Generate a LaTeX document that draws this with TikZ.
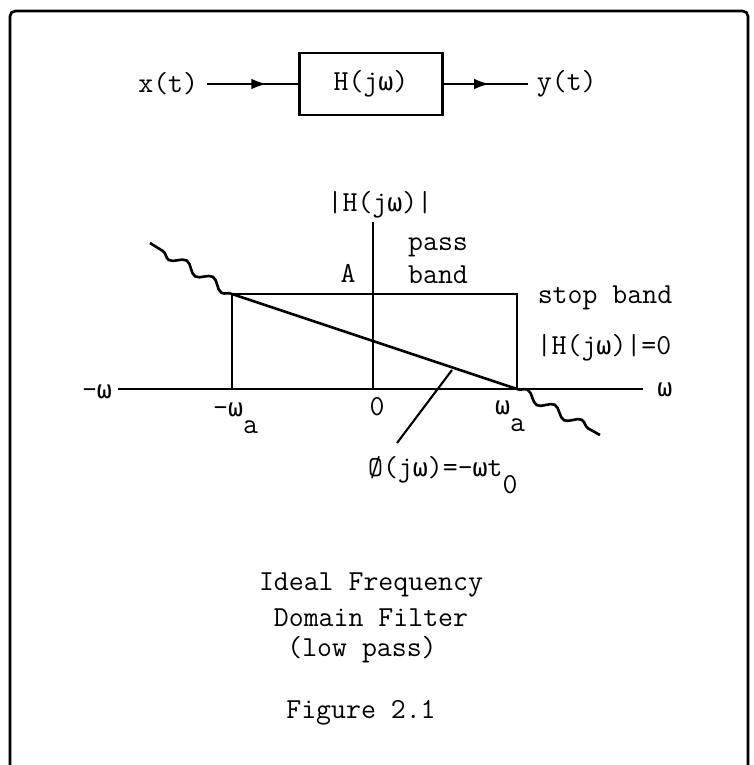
\documentclass[tikz,border=0pt]{standalone}
\usepackage{fontspec}
\newfontfamily\gkfont{DejaVu Sans Mono}[Scale=0.86]
\usetikzlibrary{arrows.meta,positioning,decorations.markings,decorations.pathmorphing}
\newcommand{\lowsub}[1]{\raisebox{-0.6em}{#1}}
\newcommand{\om}{{\gkfont ω}}
\tikzset{
  ink/.style={line width=1.5pt,black},
  tw/.style={font=\fontsize{16.5}{19}\selectfont\ttfamily\addfontfeatures{FakeBold=0.6}},
  blk/.style={draw,tw,line width=1.5pt,minimum width=2.86cm,minimum height=1.24cm,inner sep=0pt},
  lbl/.style={tw,inner sep=1pt},
  sig/.style={ink,postaction={decorate},
    decoration={markings,mark=at position #1 with {\arrow{Latex[length=9pt,width=6pt]}}}},
  wig/.style={ink,decorate,decoration={snake,segment length=0.62cm,amplitude=0.09cm}},
}
\begin{document}
\begin{tikzpicture}[x=0.02cm,y=-0.02cm]
\useasboundingbox (0,0) rectangle (754,765);
\draw[ink,rounded corners=3pt] (10,765) -- (10,11) -- (748,11) -- (748,765);

% block diagram
\node[blk] (H) at (371,84) {H(j\om)};
\node[lbl,inner sep=5pt,left=1.82cm of H] (xin) {x(t)};
\node[lbl,inner sep=5pt,right=1.68cm of H] (yout) {y(t)};
\draw[sig=0.66] (xin) -- (H);
\draw[sig=0.55] (H) -- (yout);

% magnitude and phase
\coordinate (nw) at (118,389);
\coordinate (ne) at (643,389);
\coordinate (o) at (373,389);
\coordinate (top) at (373,222);
\coordinate (la) at (232,389);
\coordinate (ra) at (517,389);
\coordinate (lt) at (232,294);
\coordinate (rt) at (517,294);
\coordinate (wl) at (150,243);
\coordinate (wr) at (600,435);
\coordinate (ph) at (452,370);
\coordinate (phl) at (397,443);
\draw[ink] (nw) -- (ne);
\draw[ink] (o) -- (top);
\draw[ink] (la) -- (lt) -- (rt) -- (ra);
\draw[ink] (lt) -- (ra);
\draw[wig] (lt) -- (wl);
\draw[wig] (ra) -- (wr);
\draw[ink,line width=1.2pt] (ph) -- (phl);

\node[lbl] (mag) at (380,205) {|H(j\om)|};
\node[lbl] (amp) at (348,273) {A};
\node[lbl,align=left] (pass) at (438,261) {pass\\band};
\node[lbl] (stop) at (605,298) {stop band};
\node[lbl] (zero) at (604,348) {|H(j\om)|=0};
\node[lbl] (wp) at (665,390) {\om};
\node[lbl] (wn) at (97,392) {-\om};
\node[lbl] (orig) at (377,407) {0};
\node[lbl,anchor=base west] (wan) at (211,416) {-\om\lowsub{a}};
\node[lbl,anchor=base west] (wap) at (493,414) {\om\lowsub{a}};
\node[lbl,anchor=base west] (phase) at (366,476) {Ø(j\om)=-\om t\lowsub{0}};

% caption
\node[lbl] (cap1) at (371,585) {Ideal Frequency};
\node[lbl] (cap2) at (371,618) {Domain Filter};
\node[lbl] (cap3) at (362,650) {(low pass)};
\node[lbl] (fig) at (361,713) {Figure 2.1};
\end{tikzpicture}
\end{document}
